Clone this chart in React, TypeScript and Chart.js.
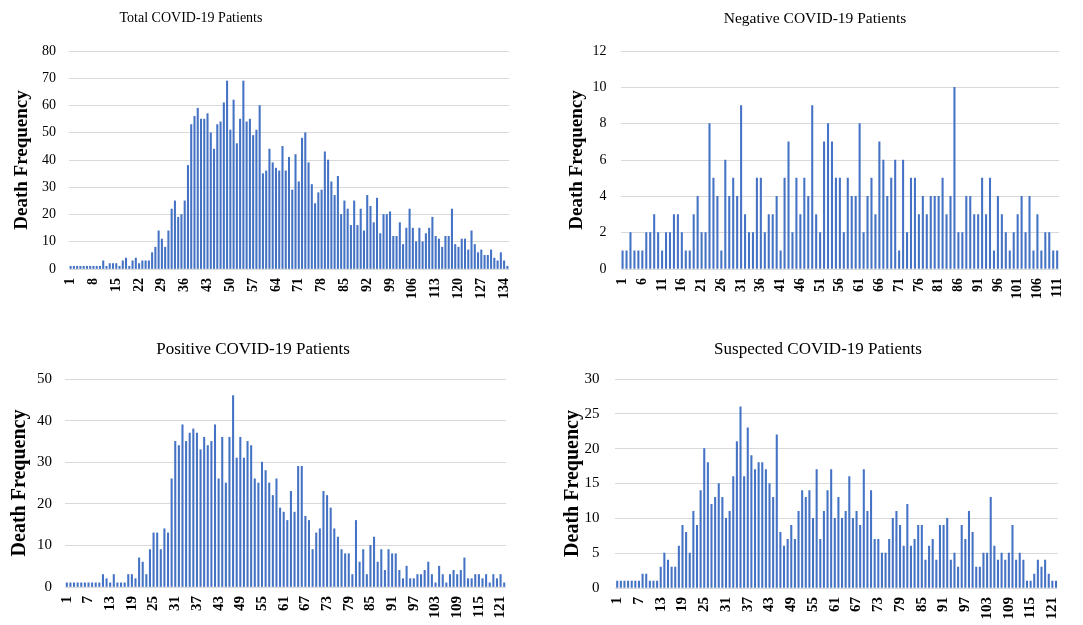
import React, { useEffect, useRef } from "react";
import { Chart, registerables } from "chart.js";

Chart.register(...registerables);

// ---------------- DATA ----------------
const totalDeaths = [
  1, 1, 1, 1, 1, 1, 1, 1, 1, 1,
  3, 1, 2, 2, 2, 1, 3, 4, 1, 3,
  4, 2, 3, 3, 3, 6, 8, 14, 11, 8,
  14, 22, 25, 19, 20, 25, 38, 53, 56, 59,
  55, 55, 57, 50, 44, 53, 54, 61, 69, 51,
  62, 46, 55, 69, 54, 55, 49, 51, 60, 35,
  36, 44, 39, 37, 36, 45, 36, 41, 29, 42,
  32, 48, 50, 39, 31, 24, 28, 29, 43, 40,
  32, 27, 34, 20, 25, 22, 16, 25, 16, 22,
  14, 27, 23, 17, 26, 13, 20, 20, 21, 12,
  12, 17, 9, 15, 22, 15, 10, 15, 10, 13,
  15, 19, 12, 11, 8, 12, 12, 22, 9, 8,
  11, 11, 7, 14, 9, 6, 7, 5, 5, 7,
  4, 3, 6, 3, 1,
];

const negativeDeaths = [
  1, 1, 2, 1, 1, 1, 2, 2, 3, 2,
  1, 2, 2, 3, 3, 2, 1, 1, 3, 4,
  2, 2, 8, 5, 4, 1, 6, 4, 5, 4,
  9, 3, 2, 2, 5, 5, 2, 3, 3, 4,
  1, 5, 7, 2, 5, 3, 5, 4, 9, 3,
  2, 7, 8, 7, 5, 5, 2, 5, 4, 4,
  8, 2, 4, 5, 3, 7, 6, 4, 5, 6,
  1, 6, 2, 5, 5, 3, 4, 3, 4, 4,
  4, 5, 3, 4, 10, 2, 2, 4, 4, 3,
  3, 5, 3, 5, 1, 4, 3, 2, 1, 2,
  3, 4, 2, 4, 1, 3, 1, 2, 2, 1,
  1,
];

const positiveDeaths = [
  1, 1, 1, 1, 1, 1, 1, 1, 1, 1,
  3, 2, 1, 3, 1, 1, 1, 3, 3, 2,
  7, 6, 3, 9, 13, 13, 9, 14, 13, 26,
  35, 34, 39, 35, 37, 38, 37, 33, 36, 34,
  35, 39, 26, 36, 25, 36, 46, 31, 36, 31,
  35, 34, 26, 25, 30, 28, 25, 22, 26, 19,
  18, 16, 23, 18, 29, 29, 17, 16, 9, 13,
  14, 23, 22, 19, 14, 12, 9, 8, 8, 3,
  16, 6, 9, 3, 10, 12, 6, 9, 4, 9,
  8, 8, 4, 2, 5, 2, 2, 3, 3, 4,
  6, 3, 1, 5, 3, 1, 3, 4, 3, 4,
  7, 2, 2, 3, 3, 2, 3, 1, 3, 2,
  3, 1,
];

const suspectedDeaths = [
  1, 1, 1, 1, 1, 1, 1, 2, 2, 1,
  1, 1, 3, 5, 4, 3, 3, 6, 9, 8,
  5, 11, 9, 14, 20, 18, 12, 13, 15, 13,
  10, 11, 16, 21, 26, 16, 23, 19, 17, 18,
  18, 17, 15, 13, 22, 8, 6, 7, 9, 7,
  11, 14, 13, 14, 10, 17, 7, 11, 14, 17,
  10, 13, 10, 11, 16, 10, 11, 9, 17, 11,
  14, 7, 7, 5, 5, 7, 10, 11, 9, 6,
  12, 6, 7, 9, 9, 4, 6, 7, 4, 9,
  9, 10, 4, 5, 3, 9, 7, 11, 8, 3,
  3, 5, 5, 13, 6, 4, 5, 4, 5, 9,
  4, 5, 4, 1, 1, 2, 4, 3, 4, 2,
  1, 1,
];

const chartTitles = [
  "Total COVID-19 Patients",
  "Negative COVID-19 Patients",
  "Positive COVID-19 Patients",
  "Suspected COVID-19 Patients",
];
const yAxisTitle = "Death Frequency";
const yMaxes = [80, 12, 50, 30];
const yStepSizes = [10, 2, 10, 5];
const xLabelEvery = [7, 5, 6, 6];

const categoriesFor = (values: number[]) => values.map((_, i) => String(i + 1));

// ---------------- STYLE / LAYOUT ----------------
const SERIF = "'Liberation Serif', 'Times New Roman', serif";
const BAR_COLOR = "#4472C4";
const GRID_COLOR = "#D9D9D9";

type Panel = {
  values: number[];
  title: string;
  yMax: number;
  yStep: number;
  every: number;
  canvas: { left: number; top: number; width: number; height: number };
  plot: { left: number; right: number; top: number; bottom: number };
  yTitleCenter: number;
  tickGap: number;
  xGap: number;
  tickSize: number;
  yTitleSize: number;
  titleSize: number;
  titleCenter: { x: number; y: number };
};

const panels: Panel[] = [
  {
    values: totalDeaths, title: chartTitles[0], yMax: yMaxes[0], yStep: yStepSizes[0], every: xLabelEvery[0],
    canvas: { left: 0, top: 0, width: 541, height: 312 },
    plot: { left: 69, right: 509, top: 51, bottom: 269 },
    yTitleCenter: 22, tickGap: 13, xGap: 9, tickSize: 14, yTitleSize: 19, titleSize: 14,
    titleCenter: { x: 191, y: 18 },
  },
  {
    values: negativeDeaths, title: chartTitles[1], yMax: yMaxes[1], yStep: yStepSizes[1], every: xLabelEvery[1],
    canvas: { left: 541, top: 0, width: 542, height: 312 },
    plot: { left: 620.6, right: 1077.4, top: 51, bottom: 269 },
    yTitleCenter: 577, tickGap: 14, xGap: 9, tickSize: 14, yTitleSize: 19, titleSize: 15.5,
    titleCenter: { x: 815, y: 18 },
  },
  {
    values: positiveDeaths, title: chartTitles[2], yMax: yMaxes[2], yStep: yStepSizes[2], every: xLabelEvery[2],
    canvas: { left: 0, top: 312, width: 541, height: 313 },
    plot: { left: 65, right: 506, top: 379, bottom: 587 },
    yTitleCenter: 20, tickGap: 13, xGap: 9, tickSize: 15, yTitleSize: 20, titleSize: 17,
    titleCenter: { x: 253, y: 348 },
  },
  {
    values: suspectedDeaths, title: chartTitles[3], yMax: yMaxes[3], yStep: yStepSizes[3], every: xLabelEvery[3],
    canvas: { left: 541, top: 312, width: 542, height: 313 },
    plot: { left: 615.4, right: 1083, top: 379, bottom: 588 },
    yTitleCenter: 573, tickGap: 16, xGap: 9, tickSize: 15, yTitleSize: 20, titleSize: 17,
    titleCenter: { x: 818, y: 348 },
  },
];

function BarPanel({ p }: { p: Panel }) {
  const ref = useRef<HTMLCanvasElement | null>(null);
  useEffect(() => {
    if (!ref.current) return;
    const labels = categoriesFor(p.values);
    const yWidth = p.plot.left - p.canvas.left;
    const padRight = p.canvas.left + p.canvas.width - p.plot.right;
    const padTop = p.plot.top - p.canvas.top;
    const xHeight = p.canvas.top + p.canvas.height - p.plot.bottom;
    const yTitleLine = p.yTitleSize * 1.2;
    const yTitlePad = p.yTitleCenter - p.canvas.left - yTitleLine / 2;
    const chart = new Chart(ref.current, {
      type: "bar",
      data: {
        labels,
        datasets: [
          {
            data: p.values,
            backgroundColor: BAR_COLOR,
            borderWidth: 0,
            barThickness: 1.4,
          },
        ],
      },
      options: {
        animation: false,
        responsive: false,
        maintainAspectRatio: false,
        events: [],
        layout: { padding: { left: 0, top: padTop, right: padRight, bottom: 0 } },
        plugins: {
          legend: { display: false },
          tooltip: { enabled: false },
          title: { display: false },
        },
        scales: {
          x: {
            grid: { display: false, drawTicks: false },
            border: { display: false },
            ticks: {
              autoSkip: false,
              minRotation: 90,
              maxRotation: 90,
              padding: p.xGap,
              color: "#000",
              font: { family: SERIF, size: p.tickSize, weight: "bold" },
              callback: (_v: any, i: number) => (i % p.every === 0 ? labels[i] : ""),
            },
            afterFit: (s: any) => {
              s.height = xHeight;
            },
          },
          y: {
            min: 0,
            max: p.yMax,
            ticks: {
              stepSize: p.yStep,
              padding: p.tickGap,
              color: "#000",
              font: { family: SERIF, size: p.tickSize },
            },
            grid: { color: GRID_COLOR, lineWidth: 1, drawTicks: false },
            border: { display: false },
            title: {
              display: true,
              text: yAxisTitle,
              color: "#000",
              font: { family: SERIF, size: p.yTitleSize, weight: "bold" },
              padding: { top: yTitlePad, bottom: 0 },
            },
            afterFit: (s: any) => {
              s.width = yWidth;
            },
          },
        },
      },
    } as any);
    return () => chart.destroy();
  }, [p]);

  return (
    <>
      <canvas
        ref={ref}
        width={p.canvas.width}
        height={p.canvas.height}
        style={{
          position: "absolute",
          left: p.canvas.left,
          top: p.canvas.top,
          width: p.canvas.width,
          height: p.canvas.height,
        }}
      />
      <div
        style={{
          position: "absolute",
          left: p.titleCenter.x,
          top: p.titleCenter.y,
          transform: "translate(-50%, -50%)",
          fontFamily: SERIF,
          fontSize: p.titleSize,
          color: "#000",
          whiteSpace: "nowrap",
          lineHeight: 1,
        }}
      >
        {p.title}
      </div>
    </>
  );
}

export default function App() {
  return (
    <div
      style={{
        position: "fixed",
        left: 0,
        top: 0,
        width: 1083,
        height: 625,
        overflow: "hidden",
        background: "#fff",
      }}
    >
      {panels.map((p, i) => (
        <BarPanel key={i} p={p} />
      ))}
    </div>
  );
}
